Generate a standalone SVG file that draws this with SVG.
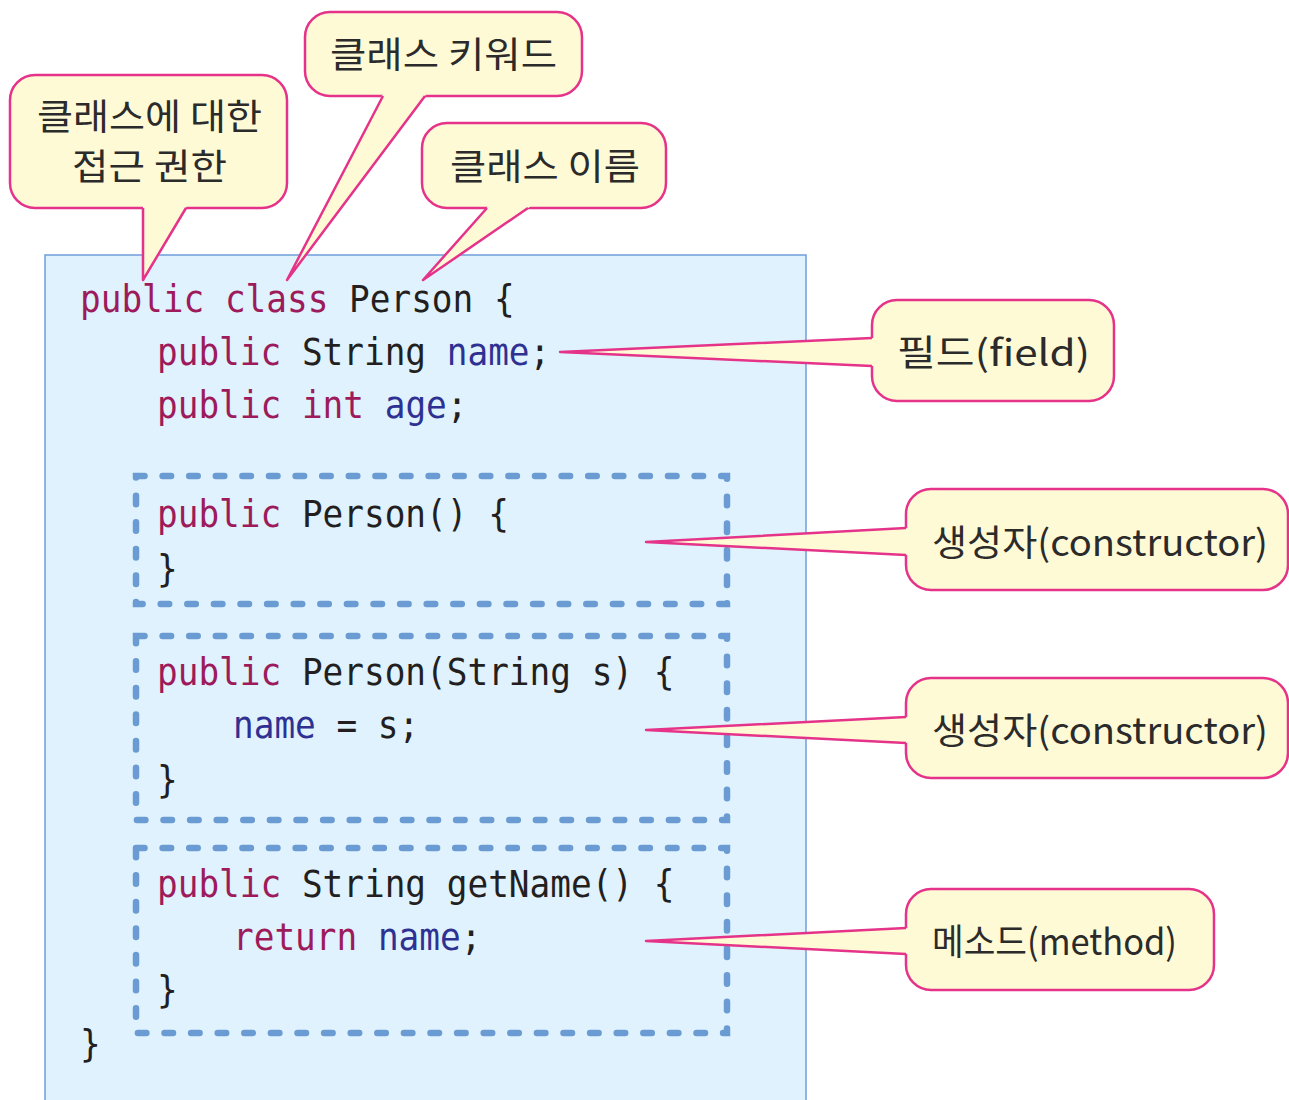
<svg xmlns="http://www.w3.org/2000/svg" width="1289" height="1100" viewBox="0 0 1289 1100">
<style>
.code{font-family:"DejaVu Sans Mono","Liberation Mono",monospace;font-size:37px;fill:#231f20}
.kw{fill:#9d1b5b}
.var{fill:#2e3192}
.lbl{font-family:"Noto Sans CJK KR","Noto Sans",sans-serif;font-size:36px;fill:#2b2b2b}
.bubble{fill:#fffad6;stroke:#e6338a;stroke-width:2.5}
.tailfill{fill:#fffad6;stroke:none}
.tailline{fill:none;stroke:#e6338a;stroke-width:2.5;stroke-linejoin:round}
.dash{fill:none;stroke:#6a9bd3;stroke-width:6.5;stroke-dasharray:8.5 18.1;stroke-linecap:round}
</style>
<rect width="1289" height="1100" fill="#ffffff"/>
<g id="class-box">
<rect x="45" y="255" width="761" height="860" fill="#e0f2fd" stroke="#6f9fd8" stroke-width="1.5"/>
</g>
<g id="block-constructor1"><rect class="dash" x="136" y="476" width="591" height="128"/></g>
<g id="block-constructor2"><rect class="dash" x="136" y="636" width="591" height="184"/></g>
<g id="block-method"><rect class="dash" x="136" y="848" width="591" height="185"/></g>
<g id="callout-access">
<rect class="bubble" x="10" y="75" width="277" height="133" rx="25"/>
<text class="lbl" x="37" y="130" textLength="225" lengthAdjust="spacingAndGlyphs">클래스에 대한</text>
<text class="lbl" x="72" y="180" textLength="155" lengthAdjust="spacingAndGlyphs">접근 권한</text>
</g>
<g id="callout-keyword">
<rect class="bubble" x="305" y="12" width="277" height="84" rx="25"/>
<text class="lbl" x="330" y="68" textLength="227" lengthAdjust="spacingAndGlyphs">클래스 키워드</text>
</g>
<g id="callout-name">
<rect class="bubble" x="422" y="123" width="244" height="85" rx="25"/>
<text class="lbl" x="450" y="180" textLength="190" lengthAdjust="spacingAndGlyphs">클래스 이름</text>
</g>
<g id="callout-field">
<rect class="bubble" x="872" y="300" width="242" height="101" rx="25"/>
<text class="lbl" x="897" y="366" textLength="193" lengthAdjust="spacingAndGlyphs">필드(field)</text>
</g>
<g id="callout-constructor1">
<rect class="bubble" x="906" y="489" width="382" height="101" rx="25"/>
<text class="lbl" x="932" y="556" textLength="336" lengthAdjust="spacingAndGlyphs">생성자(constructor)</text>
</g>
<g id="callout-constructor2">
<rect class="bubble" x="906" y="678" width="382" height="100" rx="25"/>
<text class="lbl" x="932" y="744" textLength="336" lengthAdjust="spacingAndGlyphs">생성자(constructor)</text>
</g>
<g id="callout-method">
<rect class="bubble" x="906" y="889" width="308" height="101" rx="25"/>
<text class="lbl" x="932" y="955" textLength="245" lengthAdjust="spacingAndGlyphs">메소드(method)</text>
</g>
<g id="connectors">
<polygon class="tailfill" points="143,204 143,280 188,204"/>
<polyline class="tailline" points="143,208 143,280 186,208"/>
<polygon class="tailfill" points="384,92 287,280 428,92"/>
<polyline class="tailline" points="383,96 287,280 425,96"/>
<polygon class="tailfill" points="490,204 423,280 534,204"/>
<polyline class="tailline" points="487,208 423,280 528,208"/>
<polygon class="tailfill" points="876,338 560,352 876,366"/>
<polyline class="tailline" points="872,338 560,352 872,366"/>
<polygon class="tailfill" points="910,528 646,542 910,555"/>
<polyline class="tailline" points="906,528 646,542 906,555"/>
<polygon class="tailfill" points="910,717 646,730 910,743"/>
<polyline class="tailline" points="906,717 646,730 906,743"/>
<polygon class="tailfill" points="910,928 646,941 910,954"/>
<polyline class="tailline" points="906,928 646,941 906,954"/>
</g>
<g id="code" class="code" transform="scale(0.9295,1)" xml:space="preserve">
<text x="86.07" y="312"><tspan class="kw">public</tspan> <tspan class="kw">class</tspan> Person {</text>
<text x="168.91" y="365"><tspan class="kw">public</tspan> String <tspan class="var">name</tspan>;</text>
<text x="168.91" y="418"><tspan class="kw">public</tspan> <tspan class="kw">int</tspan> <tspan class="var">age</tspan>;</text>
<text x="168.91" y="527"><tspan class="kw">public</tspan> Person() {</text>
<text x="168.91" y="582">}</text>
<text x="168.91" y="685"><tspan class="kw">public</tspan> Person(String s) {</text>
<text x="250.67" y="738"><tspan class="var">name</tspan> = s;</text>
<text x="168.91" y="793">}</text>
<text x="168.91" y="897"><tspan class="kw">public</tspan> String getName() {</text>
<text x="250.67" y="950"><tspan class="kw">return</tspan> <tspan class="var">name</tspan>;</text>
<text x="168.91" y="1003">}</text>
<text x="86.07" y="1057">}</text>
</g>
</svg>
